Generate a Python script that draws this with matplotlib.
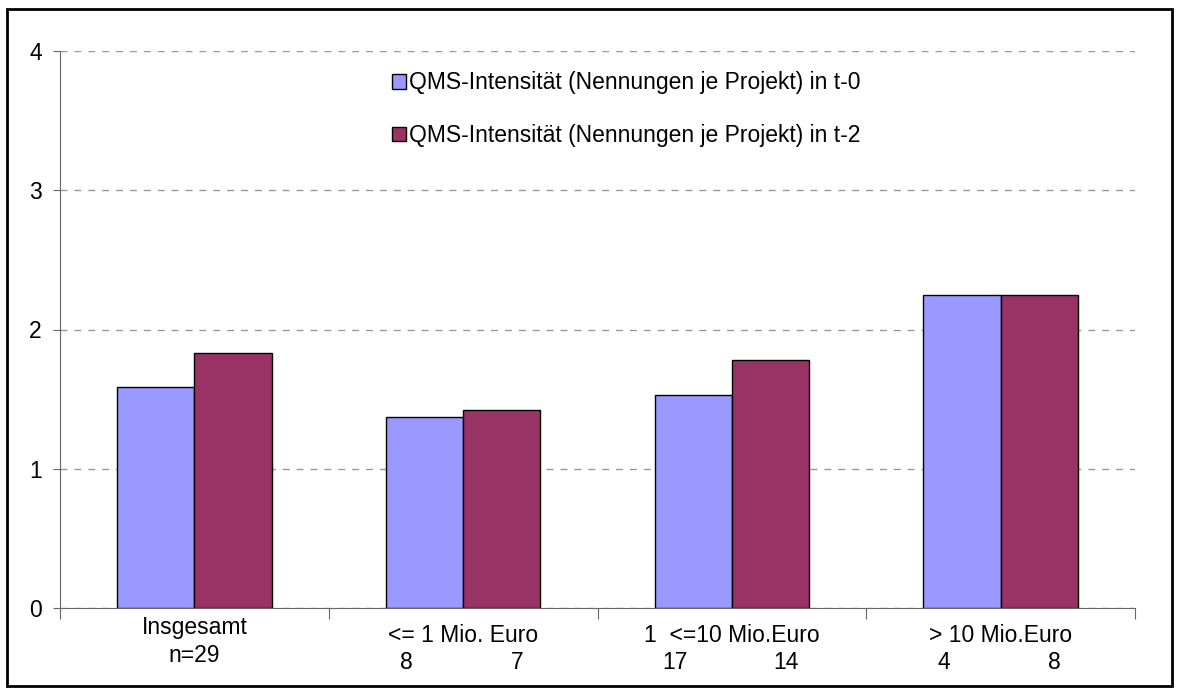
import matplotlib
matplotlib.use("Agg")
import matplotlib.pyplot as plt
import matplotlib.transforms as mtransforms
from matplotlib.patches import Rectangle
import numpy as np

plt.rcParams["font.family"] = ["Liberation Sans", "DejaVu Sans"]

# data
categories = ["Insgesamt", "<= 1 Mio. Euro", "1  <=10 Mio.Euro", "> 10 Mio.Euro"]
t0_values = [1.59, 1.37, 1.53, 2.25]
t2_values = [1.83, 1.42, 1.78, 2.25]
n_t0 = ["", "8", "17", "4"]
n_t2 = ["", "7", "14", "8"]
n_total = ["n=29", "", "", ""]
series_labels = ["QMS-Intensität (Nennungen je Projekt) in t-0",
                 "QMS-Intensität (Nennungen je Projekt) in t-2"]

FS = 16.5
W, H = 1179, 693
fig = plt.figure(figsize=(W / 100, H / 100), dpi=100)
ax = fig.add_axes([60 / W, 1 - 608 / H, (1135 - 60) / W, (608 - 51) / H])

x = np.arange(len(categories))
bw = 0.287
ax.bar(x - bw / 2, t0_values, bw, color="#9999FF", edgecolor="black", lw=1,
       label=series_labels[0], zorder=3)
ax.bar(x + bw / 2, t2_values, bw, color="#993366", edgecolor="black", lw=1,
       label=series_labels[1], zorder=3)

ax.set_xlim(-0.5, len(categories) - 0.5)
ax.set_ylim(0, 4)
ax.set_yticks([0, 1, 2, 3, 4])
ax.yaxis.grid(True, ls=(0, (5, 5)), color="#999999", lw=1)
ax.tick_params(axis="y", length=5, labelsize=FS, color="#666666", pad=8)
for s in ["top", "right"]:
    ax.spines[s].set_visible(False)
ax.spines["left"].set_color("#666666")
ax.spines["bottom"].set_color("#666666")

# ticks at category boundaries, labels at centers
ax.set_xticks(np.arange(-0.5, len(categories), 1.0))
ax.set_xticklabels([])
ax.tick_params(axis="x", length=8, color="#666666")
trans = mtransforms.blended_transform_factory(ax.transData, ax.transAxes)
for i, c in enumerate(categories):
    yoff = -0.014 if i == 0 else -0.028
    ax.text(i, yoff, c, transform=trans, ha="center", va="top", fontsize=FS)
    if n_total[i]:
        ax.text(i, -0.065, n_total[i], transform=trans, ha="center", va="top", fontsize=FS)
    if n_t0[i]:
        ax.text(i - 0.21, -0.078, n_t0[i], transform=trans, ha="center", va="top", fontsize=FS)
        ax.text(i + 0.2, -0.078, n_t2[i], transform=trans, ha="center", va="top", fontsize=FS)

ax.legend(loc="upper left", bbox_to_anchor=(0.3, 0.98), frameon=False,
          fontsize=FS, handlelength=0.62, handleheight=0.62, handletextpad=0.15,
          labelspacing=1.3, borderaxespad=0)

fig.patches.append(Rectangle((7 / W, 1 - 686 / H), (1172 - 7) / W, (686 - 9) / H,
                             transform=fig.transFigure, fill=False, ec="black", lw=2))

fig.savefig("out.png", dpi=100)
